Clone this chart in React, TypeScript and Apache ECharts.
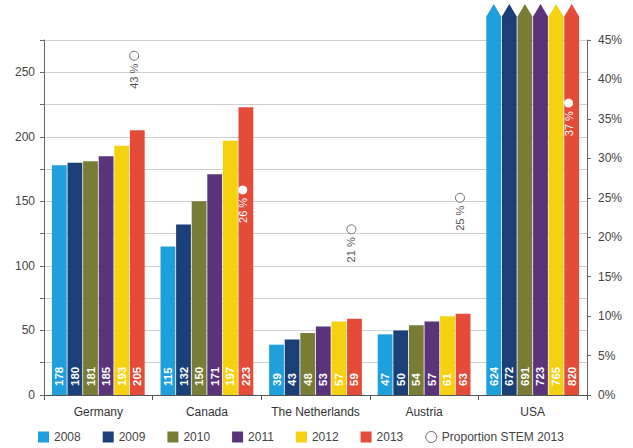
import React, { useEffect, useRef } from "react";
import * as echarts from "echarts";

const categories = ["Germany", "Canada", "The Netherlands", "Austria", "USA"];
const years = ["2008", "2009", "2010", "2011", "2012", "2013"];
const v2008 = [178, 115, 39, 47, 624];
const v2009 = [180, 132, 43, 50, 672];
const v2010 = [181, 150, 48, 54, 691];
const v2011 = [185, 171, 53, 57, 723];
const v2012 = [193, 197, 57, 61, 765];
const v2013 = [205, 223, 59, 63, 820];
const yearValues = [v2008, v2009, v2010, v2011, v2012, v2013];
const stemName = "Proportion STEM 2013";
const stem2013 = [43, 26, 21, 25, 37];
const leftMax = 275;
const leftInterval = 25;
const rightMax = 45;
const rightInterval = 5;

const colors = ["#1f9fdc", "#1b3f77", "#787c34", "#5a347a", "#f5d10f", "#e44b38"];
const FONT = "'Liberation Sans', Arial, sans-serif";

export default function App() {
  const ref = useRef<HTMLDivElement>(null);
  useEffect(() => {
    document.body.style.margin = "0";
    const chart = echarts.init(ref.current!, null, { renderer: "svg" });

    const barSeries = years.map((y, yi) => ({
      name: y,
      type: "custom",
      xAxisIndex: 0,
      yAxisIndex: 0,
      itemStyle: { color: colors[yi] },
      encode: { x: 0, y: 1 },
      data: yearValues[yi].map((v, ci) => [ci, v]),
      renderItem: (params: any, api: any) => {
        const cat = api.value(0);
        const val = api.value(1);
        const base = api.coord([cat, 0]);
        const catW = api.size([1, 0])[0];
        const step = catW * 0.1436;
        const bw = step - 0.8;
        const cx = base[0] + (yi - 2.5) * step;
        const cs = params.coordSys;
        const over = val > leftMax;
        const topY = over ? cs.y - 24 : api.coord([cat, val])[1];
        const children: any[] = [
          {
            type: "rect",
            shape: { x: cx - bw / 2, y: topY, width: bw, height: base[1] - topY },
            style: { fill: colors[yi] },
          },
        ];
        if (over) {
          children.push({
            type: "polygon",
            shape: { points: [[cx - bw / 2, topY + 0.5], [cx + bw / 2, topY + 0.5], [cx, topY - 12]] },
            style: { fill: colors[yi] },
          });
        }
        children.push({
          type: "text",
          x: cx,
          y: base[1] - 9,
          rotation: Math.PI / 2,
          style: {
            text: String(val),
            fill: "#ffffff",
            font: `bold 11.5px ${FONT}`,
            align: "left",
            verticalAlign: "middle",
          },
        });
        return { type: "group", children };
      },
    }));

    const stemSeries = {
      name: stemName,
      type: "custom",
      xAxisIndex: 0,
      yAxisIndex: 1,
      itemStyle: { color: "#ffffff", borderColor: "#777", borderWidth: 1 },
      encode: { x: 0, y: 1 },
      data: stem2013.map((v, ci) => [ci, v]),
      renderItem: (params: any, api: any) => {
        const cat = api.value(0);
        const v = api.value(1);
        const p = api.coord([cat, v]);
        const catW = api.size([1, 0])[0];
        const cx = p[0] + catW * 0.1436 * 2.3;
        const inside = v / rightMax < v2013[cat] / leftMax;
        return {
          type: "group",
          children: [
            {
              type: "circle",
              shape: { cx, cy: p[1], r: 4.5 },
              style: inside
                ? { fill: "#ffffff" }
                : { fill: "#ffffff", stroke: "#6e6e6e", lineWidth: 1 },
            },
            {
              type: "text",
              x: cx,
              y: p[1] + 8,
              rotation: Math.PI / 2,
              style: {
                text: `${v} %`,
                fill: inside ? "#ffffff" : "#555555",
                font: `11px ${FONT}`,
                align: "right",
                verticalAlign: "middle",
              },
            },
          ],
        };
      },
    };

    chart.setOption({
      animation: false,
      textStyle: { fontFamily: FONT },
      grid: { left: 44, right: 46, top: 40, bottom: 53, outerBoundsMode: "none" },
      legend: {
        top: 429,
        left: 33,
        itemWidth: 11,
        itemHeight: 11,
        itemGap: 22,
        padding: [2, 5, 2, 5],
        textStyle: { fontSize: 12, color: "#444", fontFamily: FONT },
        data: [
          ...years.map((y, i) => ({ name: y, icon: "rect", itemStyle: { color: colors[i] } })),
          {
            name: stemName,
            icon: "circle",
            itemStyle: { color: "#ffffff", borderColor: "#666", borderWidth: 1 },
          },
        ],
      },
      xAxis: {
        type: "category",
        data: categories,
        boundaryGap: true,
        axisLine: { lineStyle: { color: "#555", width: 1 } },
        axisTick: { show: true, length: 5, lineStyle: { color: "#555" } },
        axisLabel: { color: "#333", fontSize: 12, margin: 11, fontFamily: FONT, interval: 0 },
      },
      yAxis: [
        {
          type: "value",
          min: 0,
          max: leftMax,
          interval: leftInterval,
          axisLine: { show: true, lineStyle: { color: "#666" } },
          axisTick: { show: true, length: 4, lineStyle: { color: "#666" } },
          axisLabel: {
            color: "#444",
            fontSize: 12,
            margin: 9,
            fontFamily: FONT,
            formatter: (v: number) => (v % 50 === 0 ? String(v) : ""),
          },
          splitLine: { show: true, lineStyle: { color: "#cfcfcf", width: 1 } },
        },
        {
          type: "value",
          min: 0,
          max: rightMax,
          interval: rightInterval,
          position: "right",
          axisLine: { show: true, lineStyle: { color: "#666" } },
          axisTick: { show: true, length: 4, lineStyle: { color: "#666" } },
          axisLabel: { color: "#444", fontSize: 12, margin: 11, formatter: "{value}%", fontFamily: FONT },
          splitLine: { show: false },
        },
      ],
      series: [...barSeries, stemSeries],
    });
    return () => chart.dispose();
  }, []);
  return <div ref={ref} style={{ width: 633, height: 448 }} />;
}
